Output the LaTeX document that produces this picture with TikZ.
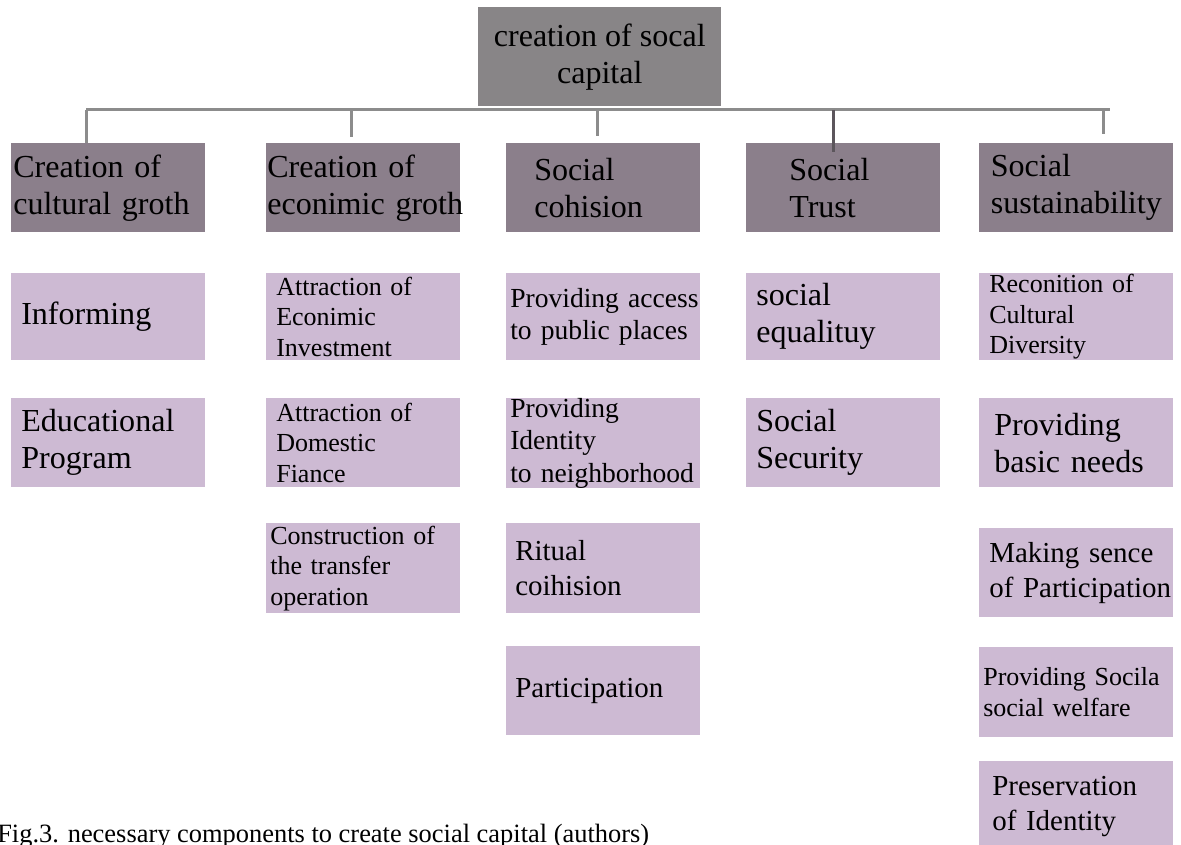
\documentclass[tikz,border=0pt]{standalone}
\usepackage{fontspec}
\setmainfont{Liberation Serif}
\usetikzlibrary{positioning}
\hyphenpenalty=10000
\newcommand{\px}{0.025cm}
\newcommand{\boxW}{194}
\newcommand{\bigFont}{\fontsize{22.8}{26.3}\selectfont}
\newcommand{\midFont}{\fontsize{20.6}{24.6}\selectfont}
\newcommand{\subFont}{\fontsize{19.6}{23.0}\selectfont}
\newcommand{\smallFont}{\fontsize{18.5}{21.7}\selectfont}
\newcommand{\capFont}{\fontsize{18.8}{22}\selectfont}
\definecolor{headgray}{RGB}{136,133,135}
\definecolor{groupgray}{RGB}{139,127,139}
\definecolor{itemlilac}{RGB}{205,186,211}
\definecolor{linkgray}{RGB}{140,140,140}
\definecolor{trustlink}{RGB}{92,86,92}

\begin{document}
\begin{tikzpicture}[x=\px, y=-\px, every node/.style={inner sep=0pt, text=black},
		head/.style={fill=headgray, anchor=north west, minimum width=243*\px, minimum height=99*\px, align=center, font=\bigFont},
		group/.style={fill=groupgray, anchor=north west, minimum width=\boxW*\px, minimum height=89*\px, align=left, text width=174*\px, font=\bigFont},
		item/.style={fill=itemlilac, anchor=north west, minimum width=\boxW*\px, minimum height=88*\px, align=left, text width=174*\px},
		link/.style={draw=linkgray, line width=3*\px}]
	\useasboundingbox (0,0) rectangle (1181,845);
		\node[head] (capital) at (478,7) {creation of socal\\capital};
		%level one
		\node[group, text width=190*\px] (cultural) at (11,143) {Creation of\\cultural groth};
		\node[group, text width=192*\px] (economic) at (266,143) {Creation of\\econimic~groth};
		\node[group, text width=138*\px] (cohesion) at (506,143) {Social\\cohision};
		\node[group, text width=108*\px] (trust) at (746,143) {Social\\Trust};
		\node[group, text width=171*\px] (sustain) at (979,143) {Social\\sustainability};
		%bus
		\coordinate (busA) at (86,110);
		\coordinate (busB) at (351,110);
		\coordinate (busC) at (597,110);
		\coordinate (busD) at (833,110);
		\coordinate (busE) at (1103,110);
		\coordinate (busEnd) at (1110,110);
		\draw[link] (busA) -- (busEnd);
		\draw[link] (busA) -- (busA |- cultural.north);
		\draw[link] (busB) -- ++(0,27);
		\draw[link] (busC) -- ++(0,26);
		\draw[link, draw=trustlink] (busD) -- ++(0,42);
		\draw[link] (busE) -- ++(0,24);
		%cultural
		\node[item, font=\bigFont, minimum height=87*\px] (informing) at (11,273) {Informing};
		\node[item, font=\bigFont, minimum height=89*\px] (education) at (11,398) {Educational\\Program};
		%economic
		\node[item, font=\smallFont, minimum height=87*\px] (investment) at (266,273) {Attraction of\\Econimic\\Investment};
		\node[item, font=\smallFont, minimum height=89*\px] (finance) at (266,398) {Attraction of\\Domestic\\Fiance};
		\node[item, font=\smallFont, minimum height=90*\px, text width=186*\px] (transfer) at (266,523) {Construction of\\the transfer\\operation};
		%cohesion
		\node[item, font=\subFont, minimum height=87*\px, text width=186*\px] (access) at (506,273) {Providing~access\\to public places};
		\node[item, font=\subFont, minimum height=89*\px, text width=186*\px] (identity) at (506,398) {Providing\\Identity\\to~neighborhood};
		\node[item, font=\midFont, minimum height=90*\px, text width=176*\px] (ritual) at (506,523) {Ritual\\coihision};
		\node[item, font=\midFont, minimum height=89*\px, text width=176*\px] (participation) at (506,646) {Participation};
		%trust
		\node[item, font=\bigFont, minimum height=87*\px] (equality) at (746,273) {social\\equalituy};
		\node[item, font=\bigFont, minimum height=89*\px] (security) at (746,398) {Social\\Security};
		%sustainability
		\node[item, font=\smallFont, minimum height=87*\px] (diversity) at (979,273) {Reconition of\\Cultural\\Diversity};
		\node[item, font=\bigFont, minimum height=89*\px, text width=164*\px] (needs) at (979,398) {Providing\\basic~needs};
		\node[item, font=\midFont, minimum height=89*\px] (sence) at (979,528) {Making~sence\\of~Participation};
		\node[item, font=\smallFont, minimum height=90*\px, text width=186*\px] (welfare) at (979,647) {Providing~Socila\\social welfare};
		\node[item, font=\midFont, minimum height=90*\px, text width=168*\px] (preserve) at (979,761) {Preservation\\of~Identity};
		\node[anchor=base west, font=\capFont] (caption) at (-3,842) {Fig.3. necessary components to create social capital (authors)};
\end{tikzpicture}
\end{document}
